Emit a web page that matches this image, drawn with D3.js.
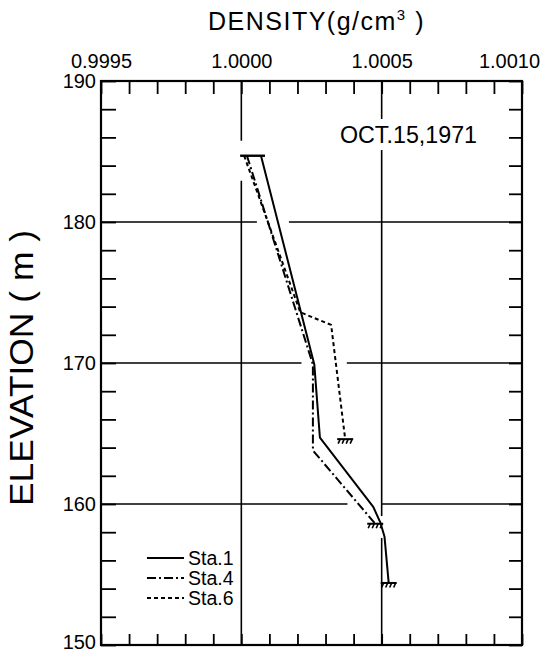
<!DOCTYPE html>
<html><head><meta charset="utf-8">
<script src="https://cdn.jsdelivr.net/npm/d3@7"></script>
<style>
body{margin:0;background:#fff}
svg{display:block}
text{font-family:"Liberation Sans",Arial,sans-serif;fill:#000}
</style>
</head><body>
<svg id="c" width="549" height="654"></svg>
<script>
// ---------- data ----------
const densityTicks = [0.9995, 1.0000, 1.0005, 1.0010];
const densityTickLabels = ["0.9995", "1.0000", "1.0005", "1.0010"];
const elevationTicks = [150, 160, 170, 180, 190];
const elevationTickLabels = ["150", "160", "170", "180", "190"];
const seriesNames = ["Sta.1", "Sta.4", "Sta.6"];
const sta1Density   = [1.00007, 1.00026, 1.00028, 1.00047, 1.000495, 1.00051, 1.000525];
const sta1Elevation = [184.7,   169.9,   164.7,   159.8,   158.7,    157.7,   154.4];
const sta4Density   = [1.00002, 1.000255, 1.000255, 1.000477];
const sta4Elevation = [184.7,   169.9,    163.8,    158.6];
const sta6Density   = [1.00001, 1.00021, 1.00032, 1.00037];
const sta6Elevation = [184.7,   173.6,   172.7,   164.6];
const dateLabel = "OCT.15,1971";
const xTitle = "DENSITY";
const yTitle = "ELEVATION ( m )";

// ---------- setup ----------
const svg = d3.select("#c");
const L = 101, R = 522, T = 81, B = 645;
const x = d3.scaleLinear().domain([0.9995, 1.0010]).range([L, R]);
const y = d3.scaleLinear().domain([150, 190]).range([B, T]);

const series = [
  {name: seriesNames[0], d: sta1Density, e: sta1Elevation, dash: null},
  {name: seriesNames[1], d: sta4Density, e: sta4Elevation, dash: "9,3,2,3"},
  {name: seriesNames[2], d: sta6Density, e: sta6Elevation, dash: "4,3"}
];
series.forEach(s => { s.pts = s.d.map((v, i) => [x(v), y(s.e[i])]); });

// top cap spanning the starting points
const starts = series.map(s => s.pts[0]);
const capY = d3.mean(starts, p => p[1]);
const capX0 = d3.min(starts, p => p[0]) - 4, capX1 = d3.max(starts, p => p[0]) + 4;

// ---------- gridlines with gaps at crossings ----------
const PAD = 11, CAPPAD = 22;
function subtract(a0, a1, cuts) {
  cuts.sort((p, q) => p[0] - q[0]);
  const out = []; let cur = a0;
  cuts.forEach(([c0, c1]) => {
    if (c0 > cur) out.push([cur, Math.min(c0, a1)]);
    cur = Math.max(cur, c1);
  });
  if (cur < a1) out.push([cur, a1]);
  return out;
}
const grid = svg.append("g").attr("stroke", "#000").attr("stroke-width", 1.6);
[160, 170, 180].forEach(v => {
  const yy = y(v), cuts = [];
  series.forEach(s => {
    for (let i = 0; i < s.pts.length - 1; i++) {
      const [ax, ay] = s.pts[i], [bx, by] = s.pts[i + 1];
      if ((ay - yy) * (by - yy) <= 0 && ay !== by) {
        const xi = ax + (yy - ay) / (by - ay) * (bx - ax);
        cuts.push([xi - PAD, xi + PAD]);
      }
    }
  });
  subtract(L, R, cuts).forEach(([a, b]) =>
    grid.append("line").attr("x1", a).attr("x2", b).attr("y1", yy).attr("y2", yy));
});
[1.0000, 1.0005].forEach(v => {
  const xx = x(v), cuts = [];
  series.forEach(s => {
    for (let i = 0; i < s.pts.length - 1; i++) {
      const [ax, ay] = s.pts[i], [bx, by] = s.pts[i + 1];
      if ((ax - xx) * (bx - xx) <= 0 && ax !== bx) {
        const yi = ay + (xx - ax) / (bx - ax) * (by - ay);
        cuts.push([yi - PAD, yi + PAD]);
      }
    }
  });
  if (xx >= capX0 - 1 && xx <= capX1) cuts.push([capY - CAPPAD + 7, capY + CAPPAD + 3]);
  subtract(T, B, cuts).forEach(([a, b]) =>
    grid.append("line").attr("x1", xx).attr("x2", xx).attr("y1", a).attr("y2", b));
});

// ---------- date label (with white backing) ----------
const dateG = svg.append("g");
const dateBg = dateG.append("rect").attr("fill", "#fff");
const dateT = dateG.append("text").attr("x", 340).attr("y", 143)
  .attr("font-size", 24).attr("textLength", 137).attr("lengthAdjust", "spacingAndGlyphs")
  .text(dateLabel);
const db = dateT.node().getBBox();
dateBg.attr("x", db.x - 4).attr("y", db.y - 2).attr("width", db.width + 8).attr("height", db.height + 4);

// ---------- legend (with white backing) ----------
const leg = svg.append("g");
const legBg = leg.append("rect").attr("fill", "#fff");
series.forEach((s, i) => {
  const ly = 558 + i * 20;
  leg.append("line").attr("x1", 147).attr("x2", 184).attr("y1", ly).attr("y2", ly)
    .attr("stroke", "#000").attr("stroke-width", 1.8).attr("stroke-dasharray", s.dash);
  leg.append("text").attr("x", 188).attr("y", ly + 7).attr("font-size", 19.5).text(s.name);
});
const lb = leg.node().getBBox();
legBg.attr("x", lb.x - 6).attr("y", lb.y - 20).attr("width", lb.width + 12).attr("height", lb.height + 38);

// ---------- axes ----------
const xMinor = d3.range(16).map(i => +(0.9995 + i * 0.0001).toFixed(4));
const yMinor = d3.range(21).map(i => 150 + i * 2);
const fmtX = d => { const k = densityTicks.findIndex(t => Math.abs(t - d) < 1e-9); return k >= 0 ? densityTickLabels[k] : ""; };
const fmtY = d => { const k = elevationTicks.indexOf(d); return k >= 0 ? elevationTickLabels[k] : ""; };

function style(g) {
  g.attr("font-family", null).attr("font-size", null);
  g.select(".domain").remove();
  g.selectAll(".tick line").attr("stroke", "#000").attr("stroke-width", 1.8);
  g.selectAll(".tick text").attr("font-size", 20).attr("fill", "#000");
}
const topAx = svg.append("g").attr("transform", `translate(0,${T})`)
  .call(d3.axisTop(x).tickValues(xMinor).tickSizeInner(-13).tickSizeOuter(0).tickPadding(13).tickFormat(fmtX))
  .call(style);
// keep the rightmost label inside the page, as in the reference
topAx.selectAll(".tick text").filter(d => Math.abs(d - densityTicks[densityTicks.length - 1]) < 1e-9)
  .attr("dx", -13);
svg.append("g").attr("transform", `translate(0,${B})`)
  .call(d3.axisBottom(x).tickValues(xMinor).tickSizeInner(-11).tickSizeOuter(0).tickFormat(""))
  .call(style);
const leftAx = svg.append("g").attr("transform", `translate(${L},0)`)
  .call(d3.axisLeft(y).tickValues(yMinor).tickSizeInner(-15).tickSizeOuter(0).tickPadding(5).tickFormat(fmtY))
  .call(style);
leftAx.selectAll(".tick text").filter(d => d === elevationTicks[0]).attr("dy", "0.18em");
svg.append("g").attr("transform", `translate(${R},0)`)
  .call(d3.axisRight(y).tickValues(yMinor).tickSizeInner(-13).tickSizeOuter(0).tickFormat(""))
  .call(style);

// frame
svg.append("rect").attr("x", L).attr("y", T).attr("width", R - L).attr("height", B - T)
  .attr("fill", "none").attr("stroke", "#000").attr("stroke-width", 2.2);

// ---------- data lines ----------
const line = d3.line();
series.forEach(s => {
  svg.append("path").attr("d", line(s.pts)).attr("fill", "none")
    .attr("stroke", "#000").attr("stroke-width", 2).attr("stroke-linejoin", "round")
    .attr("stroke-dasharray", s.dash);
});
// top cap
svg.append("line").attr("x1", capX0).attr("x2", capX1).attr("y1", capY).attr("y2", capY)
  .attr("stroke", "#000").attr("stroke-width", 2.4);
// end hatches
series.forEach(s => {
  const [ex, ey] = s.pts[s.pts.length - 1];
  const h = svg.append("g").attr("stroke", "#000").attr("stroke-width", 1.6);
  h.append("line").attr("x1", ex - 8).attr("x2", ex + 8).attr("y1", ey).attr("y2", ey).attr("stroke-width", 2);
  [-6, -2, 2, 6].forEach(o => h.append("line")
    .attr("x1", ex + o + 1).attr("y1", ey).attr("x2", ex + o - 1).attr("y2", ey + 4.5));
});

// ---------- titles ----------
const tt = svg.append("text").attr("x", 208).attr("y", 30).attr("font-size", 25)
  .attr("letter-spacing", 1.5);
tt.append("tspan").text(xTitle);
tt.append("tspan").text("(g/cm");
tt.append("tspan").attr("font-size", 15).attr("dy", -10).text("3");
tt.append("tspan").attr("dy", 10).text(" )");

svg.append("text").attr("transform", "translate(33,368) rotate(-90)")
  .attr("text-anchor", "middle").attr("font-size", 34)
  .attr("textLength", 276).attr("lengthAdjust", "spacingAndGlyphs")
  .text(yTitle);
</script>
</body></html>
